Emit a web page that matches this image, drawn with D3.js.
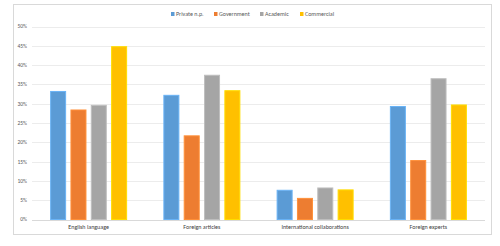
<!DOCTYPE html>
<html><head><meta charset="utf-8">
<script src="https://cdn.jsdelivr.net/npm/d3@7"></script>
<style>body{margin:0;background:#fff;}svg{display:block;}</style>
</head><body>
<script>
const categories = ["English language", "Foreign articles", "International collaborations", "Foreign experts"];
const seriesNames = ["Private n.p.", "Government", "Academic", "Commercial"];
const privateNP = [33.3, 32.3, 7.7, 29.4];
const government = [28.5, 21.8, 5.6, 15.4];
const academic = [29.7, 37.5, 8.3, 36.6];
const commercial = [44.9, 33.5, 7.8, 29.8];
const yTicks = [0, 5, 10, 15, 20, 25, 30, 35, 40, 45, 50];
const colors = ["#5B9BD5", "#ED7D31", "#A5A5A5", "#FFC000"];
const seriesValues = [privateNP, government, academic, commercial];

const W = 500, H = 246;
const svg = d3.select("body").append("svg").attr("width", W).attr("height", H);
svg.append("rect").attr("x", 13.5).attr("y", 4.5).attr("width", 478).attr("height", 230)
  .attr("fill", "#fff").attr("stroke", "#d9d9d9").attr("stroke-width", 1);

const x0 = d3.scaleBand().domain(categories).range([32, 485]).paddingInner(0).paddingOuter(0);
const y = d3.scaleLinear().domain([0, 50]).range([219.5, 26.5]);
const groupW = 77;
const x1 = d3.scaleBand().domain(seriesNames).range([0, groupW]).paddingInner(0.213).paddingOuter(0);

const font = "Calibri, Carlito, 'Open Sans', sans-serif";
const g = svg.append("g");
g.selectAll("line.grid").data(yTicks).join("line")
  .attr("x1", 32).attr("x2", 485)
  .attr("y1", d => Math.round(y(d)) + 0.5).attr("y2", d => Math.round(y(d)) + 0.5)
  .attr("stroke", d => d === 0 ? "#d9d9d9" : "#ececec").attr("stroke-width", 1);
g.selectAll("text.yt").data(yTicks).join("text")
  .attr("x", 27).attr("y", d => y(d)).attr("dy", "0.35em")
  .attr("text-anchor", "end").attr("font-family", font).attr("font-size", 5.5)
  .attr("fill", "#595959").text(d => d + "%");

const groups = g.selectAll("g.grp").data(categories).join("g")
  .attr("transform", d => `translate(${x0(d) + x0.bandwidth() / 2 - groupW / 2},0)`);
groups.each(function(cat, ci) {
  d3.select(this).selectAll("rect").data(seriesNames).join("rect")
    .attr("x", s => x1(s) + 0.5)
    .attr("width", x1.bandwidth() - 1)
    .attr("y", (s, si) => y(seriesValues[si][ci]) + 0.5)
    .attr("height", (s, si) => y(0) - y(seriesValues[si][ci]) - 0.5)
    .attr("fill", (s, si) => colors[si])
    .attr("stroke", (s, si) => d3.color(colors[si]).brighter(0.4))
    .attr("stroke-width", 1);
});
g.selectAll("text.cat").data(categories).join("text")
  .attr("x", d => x0(d) + x0.bandwidth() / 2).attr("y", 229)
  .attr("text-anchor", "middle").attr("font-family", font).attr("font-size", 6)
  .attr("fill", "#404040").text(d => d);

const legendX = [171, 214, 260, 300];
const lg = svg.selectAll("g.leg").data(seriesNames).join("g")
  .attr("transform", (d, i) => `translate(${legendX[i]},14)`);
lg.append("rect").attr("x", 0).attr("y", -2).attr("width", 3.5).attr("height", 4)
  .attr("fill", (d, i) => colors[i]);
lg.append("text").attr("x", 5).attr("y", 0).attr("dy", "0.35em")
  .attr("font-family", font).attr("font-size", 6).attr("fill", "#595959").text(d => d);
</script>
</body></html>
